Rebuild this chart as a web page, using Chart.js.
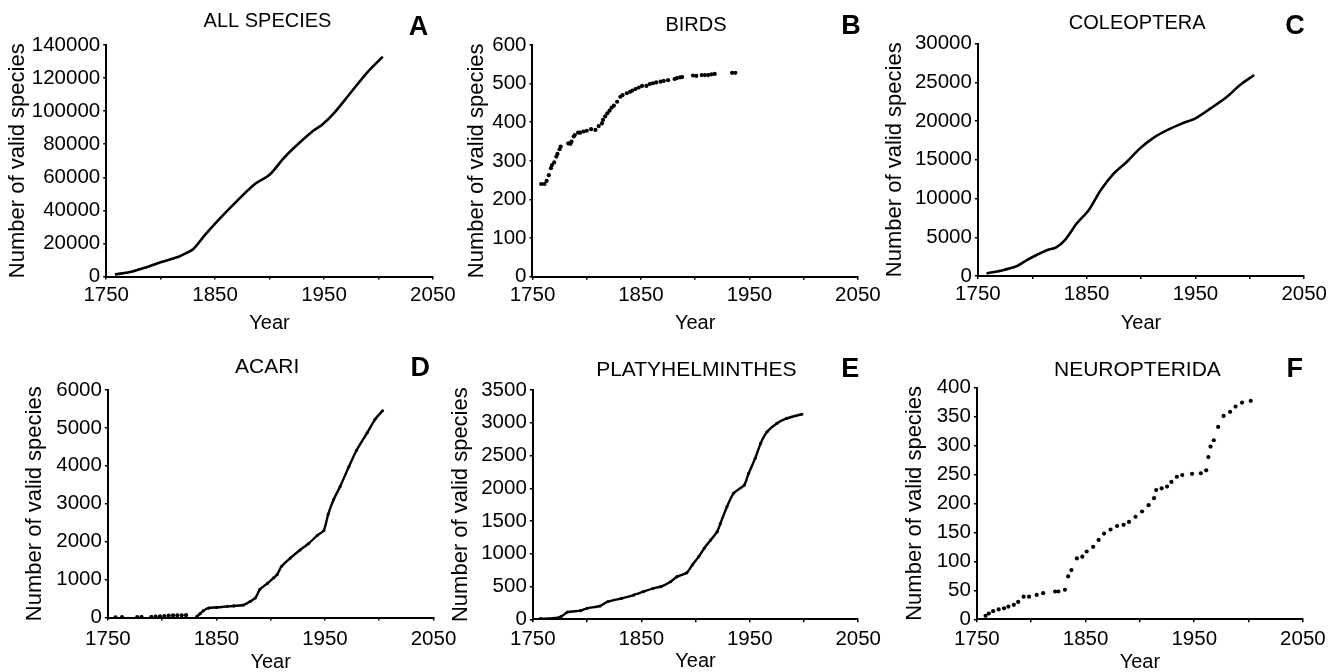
<!DOCTYPE html>
<html>
<head>
<meta charset="utf-8">
<title>Number of valid species</title>
<script src="https://cdn.jsdelivr.net/npm/chart.js@4.4.1/dist/chart.umd.min.js"></script>
<style>
    html, body { margin: 0; padding: 0; background: #fff; width: 1336px; height: 672px; overflow: hidden; }
    #wrap { position: relative; width: 1336px; height: 672px; }
    canvas { position: absolute; }
</style>
</head>
<body>
<div id="wrap"></div>
<script>
// x-axis labels (ticks every 50 years, label every 100)
const xTickLabels = [1750, 1850, 1950, 2050];

// A - all species
const allYears  = [1758, 1774, 1787, 1800, 1815, 1823, 1830, 1840, 1850, 1867, 1886, 1900, 1913, 1922, 1939, 1948, 1959, 1975, 1990, 2004];
const allCounts = [1200, 3000, 5600, 8600, 11600, 14000, 16600, 24600, 32000, 43600, 55600, 61500, 71600, 77600, 87600, 91600, 98600, 111600, 123600, 133000];

// B - birds
const birdYears  = [1758, 1761, 1763, 1765, 1767, 1768, 1770, 1772, 1773, 1775, 1776, 1783, 1785, 1786, 1788, 1789, 1792, 1794, 1797, 1800, 1804, 1808, 1811, 1814, 1815, 1817, 1819, 1821, 1823, 1825, 1828, 1831, 1833, 1837, 1840, 1842, 1845, 1848, 1851, 1855, 1858, 1861, 1864, 1868, 1871, 1875, 1881, 1883, 1886, 1888, 1898, 1901, 1906, 1909, 1912, 1915, 1918, 1934, 1937];
const birdCounts = [240, 240, 248, 263, 281, 289, 296, 311, 318, 330, 337, 345, 344, 350, 363, 367, 373, 373, 376, 378, 382, 380, 390, 397, 406, 415, 423, 430, 438, 443, 453, 466, 470, 475, 479, 482, 486, 490, 494, 494, 499, 501, 503, 505, 507, 509, 512, 514, 516, 517, 521, 520, 522, 522, 522, 524, 525, 528, 528];

// C - coleoptera
const coleYears  = [1758, 1771, 1786, 1795, 1804, 1814, 1822, 1830, 1841, 1852, 1863, 1875, 1887, 1899, 1912, 1924, 1938, 1950, 1964, 1979, 1991, 2004];
const coleCounts = [340, 690, 1290, 2060, 2710, 3350, 3700, 4640, 6800, 8510, 11090, 13240, 14750, 16470, 17890, 18830, 19690, 20340, 21630, 23130, 24640, 25930];

// D - acari (scattered early records, then continuous curve)
const acariEarlyYears  = [1757, 1763, 1777, 1781, 1790, 1794, 1798, 1802, 1806, 1810, 1814, 1818, 1822];
const acariEarlyCounts = [5, 8, 12, 15, 18, 22, 28, 40, 50, 55, 58, 60, 62];
const acariYears  = [1832, 1835, 1838, 1843, 1850, 1860, 1866, 1875, 1881, 1886, 1890, 1897, 1903, 1906, 1910, 1918, 1927, 1935, 1943, 1949, 1953, 1958, 1964, 1972, 1979, 1989, 1996, 2003];
const acariCounts = [30, 100, 180, 250, 265, 292, 305, 330, 420, 520, 740, 900, 1050, 1135, 1350, 1565, 1780, 1952, 2167, 2296, 2726, 3113, 3457, 3973, 4403, 4876, 5220, 5452];

// E - platyhelminthes
const platyYears  = [1757, 1769, 1776, 1782, 1794, 1800, 1812, 1819, 1832, 1843, 1852, 1861, 1868, 1877, 1883, 1892, 1897, 1903, 1908, 1914, 1920, 1923, 1929, 1935, 1945, 1949, 1955, 1960, 1966, 1975, 1984, 1998];
const platyCounts = [10, 15, 40, 110, 132, 168, 203, 268, 320, 370, 422, 473, 498, 573, 651, 710, 829, 956, 1083, 1210, 1337, 1464, 1719, 1922, 2049, 2227, 2456, 2685, 2863, 2990, 3066, 3130];

// F - neuropterida
const neuroYears  = [1758, 1761, 1765, 1770, 1775, 1779, 1784, 1788, 1793, 1798, 1805, 1811, 1822, 1825, 1831, 1834, 1837, 1842, 1847, 1851, 1857, 1862, 1867, 1873, 1879, 1885, 1890, 1896, 1902, 1908, 1913, 1915, 1920, 1925, 1929, 1934, 1939, 1948, 1956, 1961, 1963, 1965, 1968, 1972, 1977, 1983, 1988, 1994, 2002];
const neuroCounts = [6, 10, 14, 17, 19, 22, 25, 30, 39, 39, 42, 45, 48, 48, 51, 74, 85, 105, 108, 117, 125, 137, 148, 155, 161, 163, 168, 177, 186, 197, 209, 223, 226, 229, 237, 246, 249, 251, 252, 257, 280, 298, 309, 332, 351, 358, 367, 374, 377];

Chart.defaults.font.family = '"Liberation Sans", Arial, Helvetica, sans-serif';
Chart.defaults.color = '#000';

function pts(xs, ys) {
    return xs.map((x, i) => ({ x: x, y: ys[i] }));
}

function lineSet(xs, ys) {
    return { data: pts(xs, ys), showLine: true, borderColor: '#000', borderWidth: 2.6, pointRadius: 0, tension: 0.3 };
}

function denseSet(xs, ys) {
    return { data: pts(xs, ys), showLine: true, borderColor: '#000', borderWidth: 2.4, tension: 0.2,
             pointRadius: 1.6, pointBackgroundColor: '#000', pointBorderWidth: 0 };
}

function dotSet(xs, ys) {
    return { data: pts(xs, ys), showLine: false, pointRadius: 2.1, pointBackgroundColor: '#000', pointBorderWidth: 0 };
}

// panel layout: plot area (L,T,R,B), y-title centre, "Year" centre, heading and letter positions
const panels = [
    { letter: 'A', title: 'ALL SPECIES', rowTop: 0, L: 106, T: 45, R: 432.7, B: 276.5, yTitleX: 18, yearY: 323.3, tickPad: 3.2,
      titleX: 267.3, titleY: 21, letterX: 418.3, letterY: 27.5, titleSize: 20, yMax: 140000, yStep: 20000,
      datasets: [lineSet(allYears, allCounts)] },
    { letter: 'B', title: 'BIRDS', rowTop: 0, L: 532.3, T: 45, R: 857.7, B: 276.7, yTitleX: 477, yearY: 323.3, tickPad: 3.2,
      titleX: 695.8, titleY: 25, letterX: 850.8, letterY: 26.5, titleSize: 20, yMax: 600, yStep: 100,
      datasets: [dotSet(birdYears, birdCounts)] },
    { letter: 'C', title: 'COLEOPTERA', rowTop: 0, L: 977.7, T: 43.5, R: 1304, B: 276, yTitleX: 895, yearY: 323.3, tickPad: 3.2,
      titleX: 1137, titleY: 23.5, letterX: 1294.7, letterY: 27, titleSize: 20, yMax: 30000, yStep: 5000,
      datasets: [lineSet(coleYears, coleCounts)] },
    { letter: 'D', title: 'ACARI', rowTop: 336, L: 107.7, T: 390, R: 433.3, B: 617.5, yTitleX: 35, yearY: 662, tickPad: 6.4,
      titleX: 267, titleY: 367, letterX: 420, letterY: 368.5, titleSize: 21, yMax: 6000, yStep: 1000,
      datasets: [dotSet(acariEarlyYears, acariEarlyCounts), denseSet(acariYears, acariCounts)] },
    { letter: 'E', title: 'PLATYHELMINTHES', rowTop: 336, L: 532.3, T: 390, R: 857.7, B: 619.3, yTitleX: 460.7, yearY: 660.5, tickPad: 4.6,
      titleX: 695.8, titleY: 370, letterX: 849.7, letterY: 370, titleSize: 21, yMax: 3500, yStep: 500,
      datasets: [denseSet(platyYears, platyCounts)] },
    { letter: 'F', title: 'NEUROPTERIDA', rowTop: 336, L: 976.7, T: 387.5, R: 1302.7, B: 619.3, yTitleX: 915, yearY: 661.7, tickPad: 4.6,
      titleX: 1137.2, titleY: 370, letterX: 1294.5, letterY: 370, titleSize: 21, yMax: 400, yStep: 50,
      datasets: [dotSet(neuroYears, neuroCounts)] }
];

const wrap = document.getElementById('wrap');

panels.forEach(function(p) {
    const canvasLeft = p.yTitleX - 17.2;
    const yW = p.L - canvasLeft;
    const width = Math.round(p.R - canvasLeft + 30);
    const padRight = width - (p.R - canvasLeft);
    const height = Math.round(p.B - p.rowTop + (p.yearY - p.B + 16));
    const xH = height - (p.B - p.rowTop);
    const padTop = p.T - p.rowTop;

    const canvas = document.createElement('canvas');
    canvas.width = width;
    canvas.height = height;
    canvas.style.width = width + 'px';
    canvas.style.height = height + 'px';
    canvas.style.left = canvasLeft + 'px';
    canvas.style.top = p.rowTop + 'px';
    wrap.appendChild(canvas);

    // heading and bold panel letter
    const headings = {
        id: 'headings' + p.letter,
        afterDraw(chart) {
            const ctx = chart.ctx;
            ctx.save();
            ctx.fillStyle = '#000';
            ctx.textAlign = 'center';
            ctx.textBaseline = 'middle';
            ctx.font = p.titleSize + 'px "Liberation Sans", Arial, sans-serif';
            ctx.fillText(p.title, p.titleX - canvasLeft, p.titleY - p.rowTop);
            ctx.font = 'bold 27px "Liberation Sans", Arial, sans-serif';
            ctx.fillText(p.letter, p.letterX - canvasLeft, p.letterY - p.rowTop);
            ctx.restore();
        }
    };

    new Chart(canvas, {
        type: 'scatter',
        data: { datasets: p.datasets },
        plugins: [headings],
        options: {
            responsive: false,
            animation: false,
            devicePixelRatio: 1,
            layout: { padding: { top: padTop, right: padRight, left: 0, bottom: 0 } },
            plugins: { legend: { display: false }, tooltip: { enabled: false } },
            scales: {
                x: {
                    type: 'linear',
                    min: 1750,
                    max: 2050,
                    ticks: {
                        stepSize: 50,
                        autoSkip: false,
                        maxRotation: 0,
                        padding: p.tickPad,
                        color: '#000',
                        font: { size: 20.5 },
                        callback: v => xTickLabels.includes(v) ? String(v) : ''
                    },
                    grid: { drawOnChartArea: false, tickLength: 3, color: '#000', lineWidth: 1.5 },
                    border: { color: '#000', width: 2 },
                    title: { display: true, text: 'Year', color: '#000', font: { size: 20 }, padding: { top: 4, bottom: 4 } },
                    afterFit: function(s) { s.height = xH; }
                },
                y: {
                    min: 0,
                    max: p.yMax,
                    ticks: {
                        stepSize: p.yStep,
                        padding: 3,
                        color: '#000',
                        font: { size: 20.5 },
                        callback: v => String(v)
                    },
                    grid: { drawOnChartArea: false, tickLength: 3, color: '#000', lineWidth: 1.5 },
                    border: { color: '#000', width: 2 },
                    title: { display: true, text: 'Number of valid species', color: '#000', font: { size: 22 }, padding: { top: 4, bottom: 4 } },
                    afterFit: function(s) { s.width = yW; }
                }
            }
        }
    });
});
</script>
</body>
</html>
